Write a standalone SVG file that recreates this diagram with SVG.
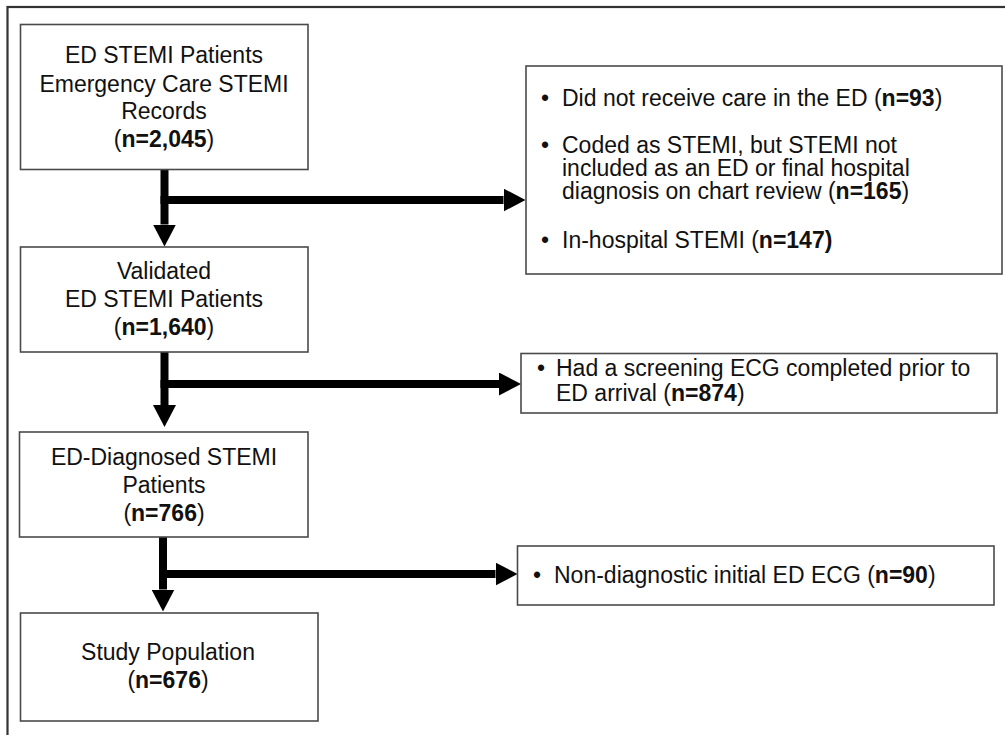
<svg xmlns="http://www.w3.org/2000/svg" width="1005" height="735" viewBox="0 0 1005 735">
<style>
  text { font-family: "Liberation Sans", Arial, sans-serif; font-size: 23px; fill: #111; }
  .c { text-anchor: middle; }
  .b { font-weight: bold; }
  .box { fill: #fff; stroke: #4a4a4a; stroke-width: 1.6; }
  .frame { fill: none; stroke: #333; stroke-width: 2.2; }
  .shaft { stroke: #000; stroke-width: 8; fill: none; }
</style>
<defs>
  <marker id="ah" markerUnits="userSpaceOnUse" markerWidth="22" markerHeight="23" viewBox="0 0 22 23" refX="0" refY="11.5" orient="auto">
    <path d="M0,0 L22,11.5 L0,23 Z" fill="#000"/>
  </marker>
</defs>
<rect width="1005" height="735" fill="#fff"/>
<rect class="frame" x="7.5" y="7" width="1010" height="740"/>

<g id="connectors">
  <line class="shaft" x1="164.5" y1="169" x2="164.5" y2="224.5" marker-end="url(#ah)"/>
  <line class="shaft" x1="160.5" y1="200" x2="503.5" y2="200" marker-end="url(#ah)"/>
  <line class="shaft" x1="164.5" y1="352" x2="164.5" y2="405" marker-end="url(#ah)"/>
  <line class="shaft" x1="160.5" y1="384" x2="499" y2="384" marker-end="url(#ah)"/>
  <line class="shaft" x1="163" y1="537" x2="163" y2="589.5" marker-end="url(#ah)"/>
  <line class="shaft" x1="159" y1="574" x2="495.5" y2="574" marker-end="url(#ah)"/>
</g>

<g id="node-ed-stemi">
  <rect class="box" x="20.5" y="24.5" width="287.5" height="145"/>
  <text class="c"><tspan x="164" y="63">ED STEMI Patients</tspan><tspan x="164" y="92">Emergency Care STEMI</tspan><tspan x="164" y="119">Records</tspan><tspan x="164" y="147">(<tspan class="b">n=2,045</tspan>)</tspan></text>
</g>

<g id="node-validated">
  <rect class="box" x="20.5" y="247" width="287.5" height="105"/>
  <text class="c"><tspan x="164" y="279">Validated</tspan><tspan x="164" y="307">ED STEMI Patients</tspan><tspan x="164" y="335">(<tspan class="b">n=1,640</tspan>)</tspan></text>
</g>

<g id="node-ed-diagnosed">
  <rect class="box" x="19.5" y="432" width="288.5" height="105"/>
  <text class="c"><tspan x="164" y="465">ED-Diagnosed STEMI</tspan><tspan x="164" y="493">Patients</tspan><tspan x="164" y="521">(<tspan class="b">n=766</tspan>)</tspan></text>
</g>

<g id="node-study">
  <rect class="box" x="20.5" y="613" width="297.5" height="108"/>
  <text class="c"><tspan x="168" y="660">Study Population</tspan><tspan x="168" y="688">(<tspan class="b">n=676</tspan>)</tspan></text>
</g>

<g id="node-excl-1">
  <rect class="box" x="526" y="66" width="476" height="208"/>
  <text x="541" y="106">•</text>
  <text x="562" y="106">Did not receive care in the ED (<tspan class="b">n=93</tspan>)</text>
  <text x="541" y="153">•</text>
  <text><tspan x="562" y="153">Coded as STEMI, but STEMI not</tspan><tspan x="562" y="176">included as an ED or final hospital</tspan><tspan x="562" y="199">diagnosis on chart review (<tspan class="b">n=165</tspan>)</tspan></text>
  <text x="541" y="248">•</text>
  <text x="562" y="248">In-hospital STEMI (<tspan class="b">n=147)</tspan></text>
</g>

<g id="node-excl-2">
  <rect class="box" x="521" y="353.5" width="476" height="59.5"/>
  <text x="537" y="376">•</text>
  <text><tspan x="556" y="376">Had a screening ECG completed prior to</tspan><tspan x="556" y="401">ED arrival (<tspan class="b">n=874</tspan>)</tspan></text>
</g>

<g id="node-excl-3">
  <rect class="box" x="517.5" y="546" width="476.5" height="59"/>
  <text x="533" y="582.5">•</text>
  <text x="554" y="582.5">Non-diagnostic initial ED ECG (<tspan class="b">n=90</tspan>)</text>
</g>
</svg>
